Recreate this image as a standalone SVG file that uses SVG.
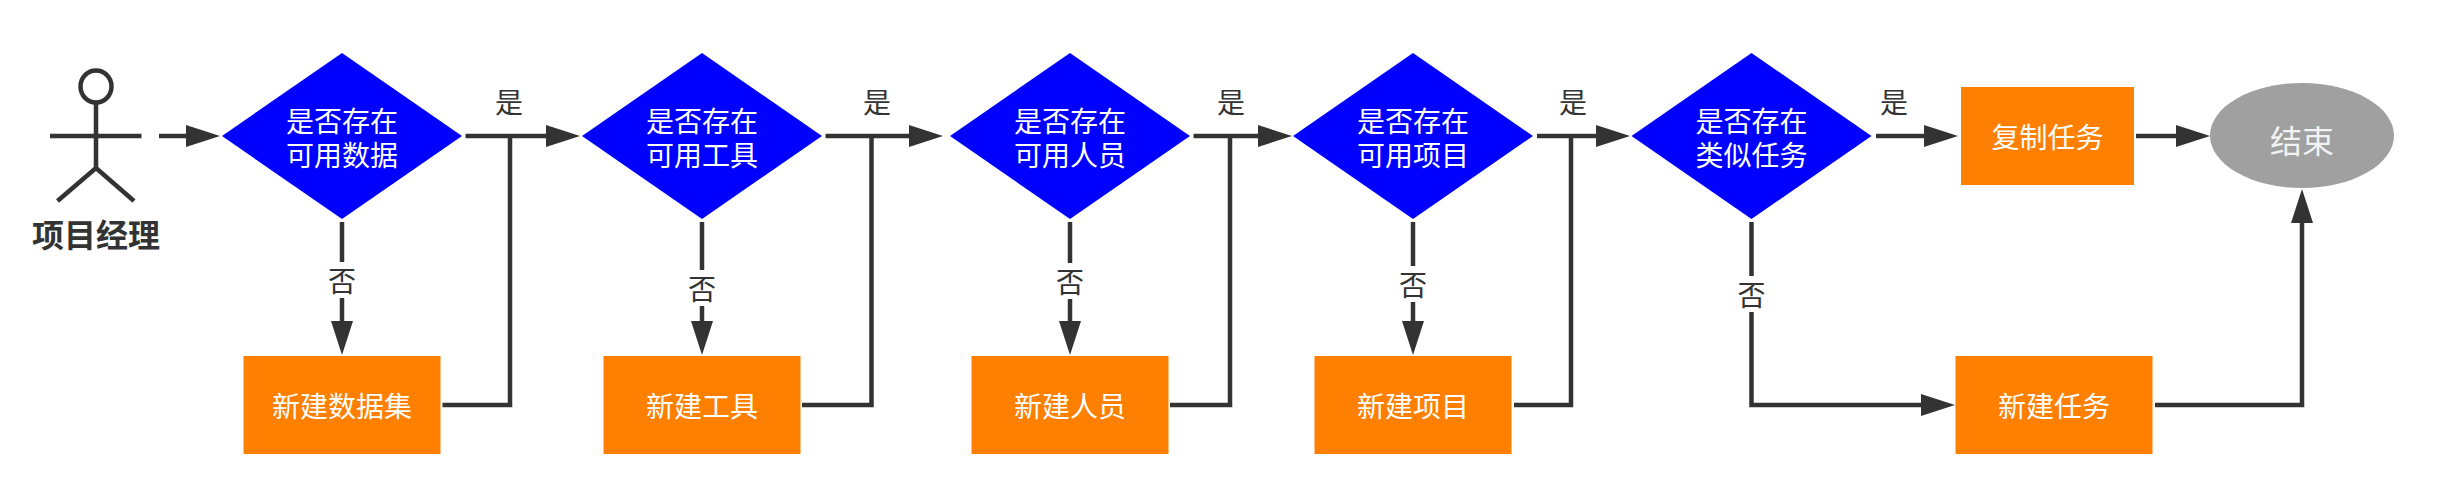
<svg xmlns="http://www.w3.org/2000/svg" width="2446" height="504" viewBox="0 0 2446 504">
<style>
text{font-family:"Microsoft YaHei","Noto Sans CJK SC","Liberation Sans",sans-serif;font-size:28px;text-anchor:middle}
.d{fill:#0000ff}.r{fill:#ff8000}.w{fill:#fff}
.c{fill:none;stroke:#333;stroke-width:4.5}
.a{marker-end:url(#arrow)}
.l{fill:#333}
.g{fill:#fff;stroke:none}
.p{fill:none;stroke:#333;stroke-width:4.5}
</style>
<defs><marker id="arrow" markerUnits="userSpaceOnUse" markerWidth="36" markerHeight="24" viewBox="0 -12 36 24" refX="2" refY="0" orient="auto"><path d="M0,-11 L34,0 L0,11 z" fill="#333"/></marker></defs>
<rect width="2446" height="504" fill="#fff"/>
<g id="connectors">
<path class="c a" d="M159,136H188"/>
<path class="c a" d="M465.500,136H548"/>
<path class="c" d="M442.500,405H510V136"/>
<path class="c a" d="M342,222V323"/>
<path class="c a" d="M825.500,136H911"/>
<path class="c" d="M802,405H871.500V136"/>
<path class="c a" d="M702,222V323"/>
<path class="c a" d="M1193.500,136H1260"/>
<path class="c" d="M1170,405H1230V136"/>
<path class="c a" d="M1070,222V323"/>
<path class="c a" d="M1537,136H1598"/>
<path class="c" d="M1514,405H1571V136"/>
<path class="c a" d="M1413,222V323"/>
<path class="c a" d="M1876,136H1926"/>
<path class="c a" d="M1751.500,222V405H1923"/>
<path class="c a" d="M2136,136H2178"/>
<path class="c a" d="M2155,405H2302V221"/>
<rect class="g" x="326" y="262" width="32" height="36"/><text class="l" x="342" y="292">否</text>
<rect class="g" x="686" y="270" width="32" height="36"/><text class="l" x="702" y="300">否</text>
<rect class="g" x="1054" y="263" width="32" height="36"/><text class="l" x="1070" y="293">否</text>
<rect class="g" x="1397" y="266" width="32" height="36"/><text class="l" x="1413" y="296">否</text>
<rect class="g" x="1735.500" y="276" width="32" height="36"/><text class="l" x="1751.500" y="306">否</text>
<text class="l" x="509" y="113">是</text>
<text class="l" x="877" y="113">是</text>
<text class="l" x="1231" y="113">是</text>
<text class="l" x="1573" y="113">是</text>
<text class="l" x="1894" y="113">是</text>
</g>
<g id="actor">
<ellipse class="p" cx="96" cy="86.500" rx="15.500" ry="16"/>
<path class="p" d="M96,103V168M50,136H141.500M57.500,201L96,168L134,201"/>
<text x="96" y="247" fill="#333" font-weight="700" style="font-size:32px">项目经理</text>
</g>
<g id="d1"><polygon class="d" points="342,53 462,136 342,219 222,136"/><text class="w" x="342" y="132">是否存在<tspan x="342" dy="34">可用数据</tspan></text></g>
<g id="r1"><rect class="r" x="243.500" y="356" width="197" height="98"/><text class="w" x="342" y="417">新建数据集</text></g>
<g id="d2"><polygon class="d" points="702,53 822,136 702,219 582,136"/><text class="w" x="702" y="132">是否存在<tspan x="702" dy="34">可用工具</tspan></text></g>
<g id="r2"><rect class="r" x="603.500" y="356" width="197" height="98"/><text class="w" x="702" y="417">新建工具</text></g>
<g id="d3"><polygon class="d" points="1070,53 1190,136 1070,219 950,136"/><text class="w" x="1070" y="132">是否存在<tspan x="1070" dy="34">可用人员</tspan></text></g>
<g id="r3"><rect class="r" x="971.500" y="356" width="197" height="98"/><text class="w" x="1070" y="417">新建人员</text></g>
<g id="d4"><polygon class="d" points="1413,53 1533,136 1413,219 1293,136"/><text class="w" x="1413" y="132">是否存在<tspan x="1413" dy="34">可用项目</tspan></text></g>
<g id="r4"><rect class="r" x="1314.500" y="356" width="197" height="98"/><text class="w" x="1413" y="417">新建项目</text></g>
<g id="d5"><polygon class="d" points="1751.500,53 1871.500,136 1751.500,219 1631.500,136"/><text class="w" x="1751.500" y="132">是否存在<tspan x="1751.500" dy="34">类似任务</tspan></text></g>
<g id="r5"><rect class="r" x="1961" y="87" width="173" height="98"/><text class="w" x="2047.500" y="148">复制任务</text></g>
<g id="r6"><rect class="r" x="1955.500" y="356" width="197" height="98"/><text class="w" x="2054" y="417">新建任务</text></g>
<g id="end"><ellipse cx="2302" cy="135.500" rx="92" ry="52.500" fill="#a0a0a0"/><text x="2302" y="153" fill="#f2f2f2" style="font-size:32px">结束</text></g>
</svg>
